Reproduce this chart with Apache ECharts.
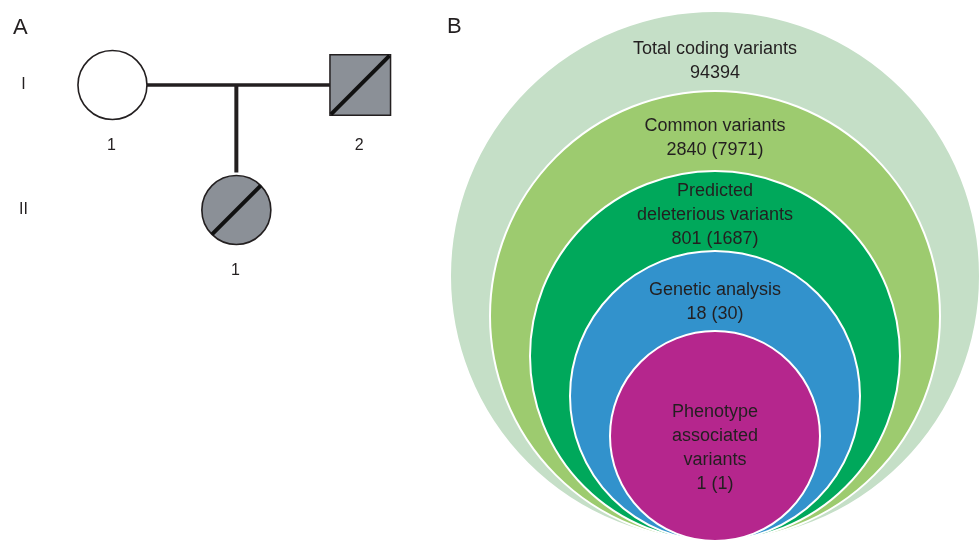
<!DOCTYPE html>
<html>
<head>
<meta charset="utf-8">
<script src="https://cdn.jsdelivr.net/npm/echarts@6/dist/echarts.min.js"></script>
<style>
html, body { margin: 0; padding: 0; background: #ffffff; }
#chart { width: 979px; height: 544px; }
</style>
</head>
<body>
<div id="chart"></div>
<script>
// ---------- Panel A: pedigree ----------
const generationLabels = ['I', 'II'];
const memberIds = ['I-1', 'I-2', 'II-1'];
const memberGeneration = [0, 0, 1];      // index into generationLabels
const memberSlot = [0, 2, 1];            // horizontal order within the pedigree
const memberSex = ['female', 'male', 'female'];
const memberAffected = [false, true, true];
const memberDeceased = [false, true, true];
const memberNumbers = ['1', '2', '1'];
const matings = [['I-1', 'I-2']];
const offspring = [['I-1', 'I-2', 'II-1']];   // [parent, parent, child]

// ---------- Panel B: variant filtering ----------
const stepNames = ['Total coding variants', 'Common variants', 'Predicted deleterious variants', 'Genetic analysis', 'Phenotype associated variants'];
const stepNameLines = [
  ['Total coding variants'],
  ['Common variants'],
  ['Predicted', 'deleterious variants'],
  ['Genetic analysis'],
  ['Phenotype', 'associated', 'variants']
];
const variantCounts = [94394, 2840, 801, 18, 1];
const variantCountsBracket = [null, 7971, 1687, 30, 1];

// ---------- styles / layout ----------
const TEXT = '#231f20';
const FONT = 'Liberation Sans, Arial, sans-serif';
const stepColors = ['#c5dfc7', '#9dcb6f', '#00a85b', '#3292cc', '#b5268d'];
const labelNudge = [10, 7, 4, 11, 12];   // px, vertical placement of ring labels
const OUTER_R = 6.625;   // ring units
const RING_STEP = 1;
const AFFECTED_FILL = '#8b9097';
const CIRCLE_R = 34.5;
const SQUARE_HALF = 30.3;

function halfExtent(idx) {
  return memberSex[idx] === 'male' ? SQUARE_HALF : CIRCLE_R;
}

const chart = echarts.init(document.getElementById('chart'), null, { renderer: 'canvas' });

const memberData = memberIds.map((id, i) => [memberSlot[i], memberGeneration[i]]);
const relationData = offspring.map((o, i) => [0, 0]);

const option = {
  animation: false,
  backgroundColor: '#ffffff',
  title: [
    { text: 'A', left: 13, top: 17, padding: 0, textStyle: { fontSize: 22, fontWeight: 'normal', color: TEXT, fontFamily: FONT } },
    { text: 'B', left: 447, top: 16, padding: 0, textStyle: { fontSize: 22, fontWeight: 'normal', color: TEXT, fontFamily: FONT } }
  ],
  grid: [
    { left: 50.5, top: 22.5, width: 371.7, height: 250 },
    { left: 440, top: 0, width: 539, height: 544 }
  ],
  xAxis: [
    { gridIndex: 0, type: 'value', min: -0.5, max: 2.5, show: false },
    { gridIndex: 1, type: 'value', min: -6.875, max: 6.6, show: false }
  ],
  yAxis: [
    {
      gridIndex: 0, type: 'category', data: generationLabels, inverse: true,
      axisLine: { show: false }, axisTick: { show: false }, splitLine: { show: false },
      axisLabel: { color: TEXT, fontSize: 16, fontFamily: FONT, margin: 27, align: 'center' }
    },
    { gridIndex: 1, type: 'value', min: -0.075, max: 13.525, show: false }
  ],
  series: [
    {
      // relationship lines (mating + descent)
      type: 'custom',
      xAxisIndex: 0, yAxisIndex: 0,
      z: 1,
      data: relationData,
      renderItem: function (params, api) {
        const o = offspring[params.dataIndex];
        const a = memberIds.indexOf(o[0]);
        const b = memberIds.indexOf(o[1]);
        const c = memberIds.indexOf(o[2]);
        const pa = api.coord([memberSlot[a], memberGeneration[a]]);
        const pb = api.coord([memberSlot[b], memberGeneration[b]]);
        const pc = api.coord([memberSlot[c], memberGeneration[c]]);
        const left = pa[0] < pb[0] ? { p: pa, i: a } : { p: pb, i: b };
        const right = pa[0] < pb[0] ? { p: pb, i: b } : { p: pa, i: a };
        const midX = (pa[0] + pb[0]) / 2;
        const y = pa[1];
        return {
          type: 'group',
          children: [
            { type: 'line', shape: { x1: left.p[0] + halfExtent(left.i), y1: y, x2: right.p[0] - halfExtent(right.i), y2: y },
              style: { stroke: TEXT, lineWidth: 3.5 } },
            { type: 'line', shape: { x1: midX, y1: y, x2: midX, y2: pc[1] - halfExtent(c) - 3 },
              style: { stroke: TEXT, lineWidth: 4 } }
          ]
        };
      }
    },
    {
      // pedigree members
      type: 'custom',
      xAxisIndex: 0, yAxisIndex: 0,
      z: 2,
      data: memberData,
      renderItem: function (params, api) {
        const i = params.dataIndex;
        const p = api.coord([api.value(0), api.value(1)]);
        const fill = memberAffected[i] ? AFFECTED_FILL : '#ffffff';
        const children = [];
        let d;
        if (memberSex[i] === 'male') {
          children.push({ type: 'rect', shape: { x: p[0] - SQUARE_HALF, y: p[1] - SQUARE_HALF, width: 2 * SQUARE_HALF, height: 2 * SQUARE_HALF },
            style: { fill: fill, stroke: TEXT, lineWidth: 1.5 } });
          d = SQUARE_HALF - 1;
        } else {
          children.push({ type: 'circle', shape: { cx: p[0], cy: p[1], r: CIRCLE_R },
            style: { fill: fill, stroke: TEXT, lineWidth: 1.6 } });
          d = CIRCLE_R * Math.SQRT1_2;
        }
        if (memberDeceased[i]) {
          children.push({ type: 'line', shape: { x1: p[0] - d, y1: p[1] + d, x2: p[0] + d, y2: p[1] - d },
            style: { stroke: '#111111', lineWidth: 4 } });
        }
        children.push({ type: 'text', style: { text: memberNumbers[i], x: p[0] - 1, y: p[1] + 61,
          align: 'center', verticalAlign: 'middle', fontSize: 16, fontFamily: FONT, fill: TEXT } });
        return { type: 'group', children: children };
      }
    },
    {
      // nested filtering circles
      type: 'custom',
      xAxisIndex: 1, yAxisIndex: 1,
      z: 2,
      data: stepNames.map((n, i) => [0, OUTER_R - i * RING_STEP]),
      renderItem: function (params, api) {
        const i = params.dataIndex;
        const n = stepNames.length;
        const r = api.value(1);
        const c = api.coord([0, r]);
        const rp = api.size([r, 0])[0];
        const countText = variantCountsBracket[i] == null
          ? String(variantCounts[i])
          : variantCounts[i] + ' (' + variantCountsBracket[i] + ')';
        const text = stepNameLines[i].concat([countText]).join('\n');
        let ty;
        if (i < n - 1) {
          ty = api.coord([0, 2 * r - RING_STEP])[1] + labelNudge[i];
        } else {
          ty = c[1] + labelNudge[i];
        }
        return {
          type: 'group',
          children: [
            { type: 'circle', shape: { cx: c[0], cy: c[1], r: rp },
              style: { fill: stepColors[i], stroke: '#ffffff', lineWidth: 2 } },
            { type: 'text', z2: 10, style: { text: text, x: c[0], y: ty, align: 'center', verticalAlign: 'middle',
              fontSize: 18, lineHeight: 24, fontFamily: FONT, fill: TEXT } }
          ]
        };
      }
    }
  ]
};

chart.setOption(option);
</script>
</body>
</html>
